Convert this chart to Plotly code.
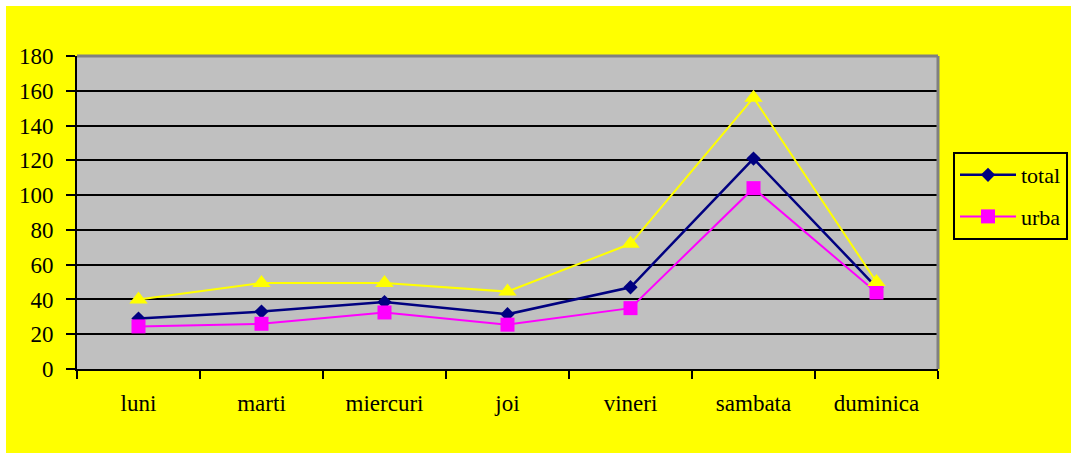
import plotly.graph_objects as go

days = ["luni", "marti", "miercuri", "joi", "vineri", "sambata", "duminica"]
total = [29, 33, 38.5, 31.5, 47, 121, 47]
urba = [24.5, 26, 32.5, 25.5, 35, 104, 44]
third = [40, 49.5, 49.5, 44.5, 72, 156, 50]
y_ticks = [0, 20, 40, 60, 80, 100, 120, 140, 160, 180]

W, H = 1071, 453
L, R, T, B = 77, 938, 56, 369
FONT = "Liberation Serif"

fig = go.Figure()
fig.add_trace(go.Scatter(
    x=days, y=total, name="total", mode="lines+markers",
    line=dict(color="#000080", width=2.5),
    marker=dict(symbol="diamond", size=11, color="#000080"),
    legendgroup="a",
))
fig.add_trace(go.Scatter(
    x=days, y=urba, name="urba", mode="lines+markers",
    line=dict(color="#FF00FF", width=2),
    marker=dict(symbol="square", size=14, color="#FF00FF"),
    legendgroup="b",
))
fig.add_trace(go.Scatter(
    x=days, y=third, name="", mode="lines+markers",
    line=dict(color="#FFFF00", width=2),
    marker=dict(symbol="triangle-up", size=16, color="#FFFF00"),
    showlegend=False,
))

def px_x(p):
    return (p - L) / (R - L)

def px_y(p):
    return (B - p) / (B - T)

shapes = [
    # white strips at top and left edges of the picture
    dict(type="rect", xref="paper", yref="paper", x0=px_x(0), x1=px_x(W), y0=px_y(6), y1=px_y(0),
         fillcolor="white", line=dict(width=0), layer="above"),
    dict(type="rect", xref="paper", yref="paper", x0=px_x(0), x1=px_x(6), y0=px_y(H), y1=px_y(0),
         fillcolor="white", line=dict(width=0), layer="above"),
    # grey border top/right of plot area
    dict(type="line", xref="paper", yref="paper", x0=0, x1=1, y0=1, y1=1,
         line=dict(color="#808080", width=3), layer="above"),
    dict(type="line", xref="paper", yref="paper", x0=1, x1=1, y0=0, y1=1,
         line=dict(color="#808080", width=3), layer="above"),
]

fig.update_layout(
    width=W, height=H,
    margin=dict(l=L, r=W - R, t=T, b=H - B, pad=0, autoexpand=False),
    paper_bgcolor="#FFFF00",
    plot_bgcolor="#C0C0C0",
    font=dict(family=FONT, size=22, color="black"),
    showlegend=True,
    legend=dict(
        x=px_x(953), y=px_y(152), xanchor="left", yanchor="top",
        bgcolor="#FFFF00", bordercolor="black", borderwidth=2,
        font=dict(family=FONT, size=22, color="black"),
        traceorder="grouped", tracegroupgap=10,
        itemwidth=56,
    ),
    shapes=shapes,
    xaxis=dict(
        type="category", categoryorder="array", categoryarray=days,
        range=[-0.5, 6.5],
        showline=True, linecolor="black", linewidth=2,
        ticks="outside", tickson="boundaries", ticklen=8, tickwidth=2, tickcolor="black",
        showgrid=False, zeroline=False,
        ticklabelstandoff=12,
        tickfont=dict(family=FONT, size=23, color="black"),
        fixedrange=True,
    ),
    yaxis=dict(
        range=[0, 180], tickvals=y_ticks, ticktext=[str(v) for v in y_ticks],
        showline=True, linecolor="black", linewidth=2,
        ticks="outside", ticklen=9, tickwidth=2, tickcolor="black",
        showgrid=True, gridcolor="black", gridwidth=2,
        zeroline=False,
        ticklabelstandoff=8,
        tickfont=dict(family=FONT, size=23, color="black"),
        fixedrange=True,
    ),
)

fig.write_html(
    "out.html",
    config={"displayModeBar": False},
    post_script="document.body.style.margin='0';document.body.style.overflow='hidden';",
)
